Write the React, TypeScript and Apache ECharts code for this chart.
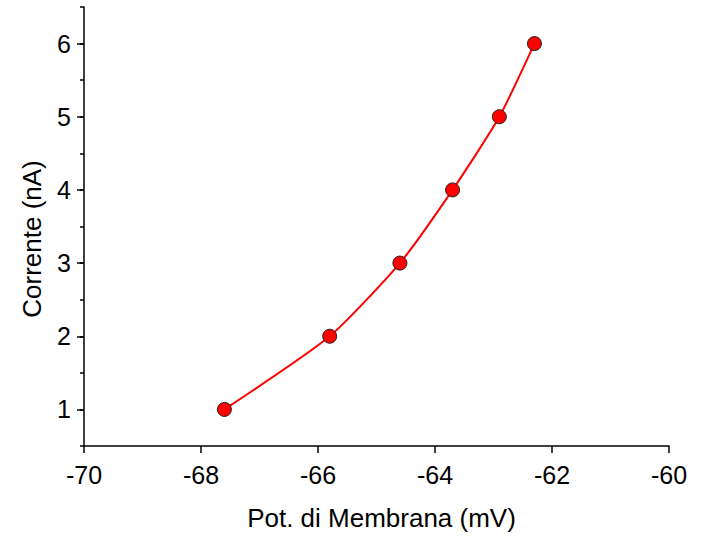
import React, { useEffect, useRef } from "react";
import * as echarts from "echarts";

const potential = [-67.6, -65.8, -64.6, -63.7, -62.9, -62.3];
const current = [1, 2, 3, 4, 5, 6];
const yMajorTicks = [1, 2, 3, 4, 5, 6];
const xTitle = "Pot. di Membrana (mV)";
const yTitle = "Corrente (nA)";

export default function App() {
  const ref = useRef<HTMLDivElement>(null);
  useEffect(() => {
    const chart = echarts.init(ref.current!, null, { renderer: "svg" });
    const font = "Arial";
    const axisColor = "#000";
    chart.setOption({
      animation: false,
      backgroundColor: "#ffffff",
      textStyle: { fontFamily: font },
      grid: { left: 84, right: 33, top: 7, bottom: 80, containLabel: false },
      xAxis: {
        type: "value",
        min: -70,
        max: -60,
        interval: 2,
        name: xTitle,
        nameLocation: "middle",
        nameGap: 59,
        nameTextStyle: { fontFamily: font, fontSize: 26, color: axisColor, padding: [0, 0, 0, 10] },
        axisLine: { show: true, onZero: false, lineStyle: { color: axisColor, width: 1.5 } },
        axisTick: { show: true, inside: false, length: 7, lineStyle: { color: axisColor, width: 1.5 } },
        axisLabel: { fontFamily: font, fontSize: 25, color: axisColor, margin: 16 },
        splitLine: { show: false },
      },
      yAxis: [
        {
          type: "value",
          min: 0.5,
          max: 6.5,
          interval: 0.5,
          position: "left",
          axisLine: { show: true, onZero: false, lineStyle: { color: axisColor, width: 1.5 } },
          axisTick: { show: true, inside: false, length: 4, lineStyle: { color: axisColor, width: 1.5 } },
          axisLabel: { show: false },
          splitLine: { show: false },
        },
        {
          type: "value",
          min: 0.5,
          max: 6.5,
          interval: 0.5,
          position: "left",
          offset: 0,
          name: yTitle,
          nameLocation: "middle",
          nameGap: 39,
          nameTextStyle: { fontFamily: font, fontSize: 26, color: axisColor, padding: [0, 25, 0, 0] },
          axisLine: { show: false, onZero: false },
          axisTick: {
            show: true,
            inside: false,
            length: 7,
            customValues: yMajorTicks,
            lineStyle: { color: axisColor, width: 1.5 },
          },
          axisLabel: {
            fontFamily: font,
            fontSize: 25,
            color: axisColor,
            margin: 13,
            customValues: yMajorTicks,
          },
          splitLine: { show: false },
        },
      ],
      series: [
        {
          type: "line",
          yAxisIndex: 0,
          data: potential.map((x, i) => [x, current[i]]),
          smooth: 0.2,
          symbol: "circle",
          symbolSize: 14,
          lineStyle: { color: "#ff0000", width: 2 },
          itemStyle: { color: "#ff0000", borderColor: "#222", borderWidth: 1 },
          z: 3,
        },
      ],
    });
    return () => chart.dispose();
  }, []);
  return (
    <div
      ref={ref}
      style={{ position: "fixed", left: 0, top: 0, width: 702, height: 536 }}
    />
  );
}
